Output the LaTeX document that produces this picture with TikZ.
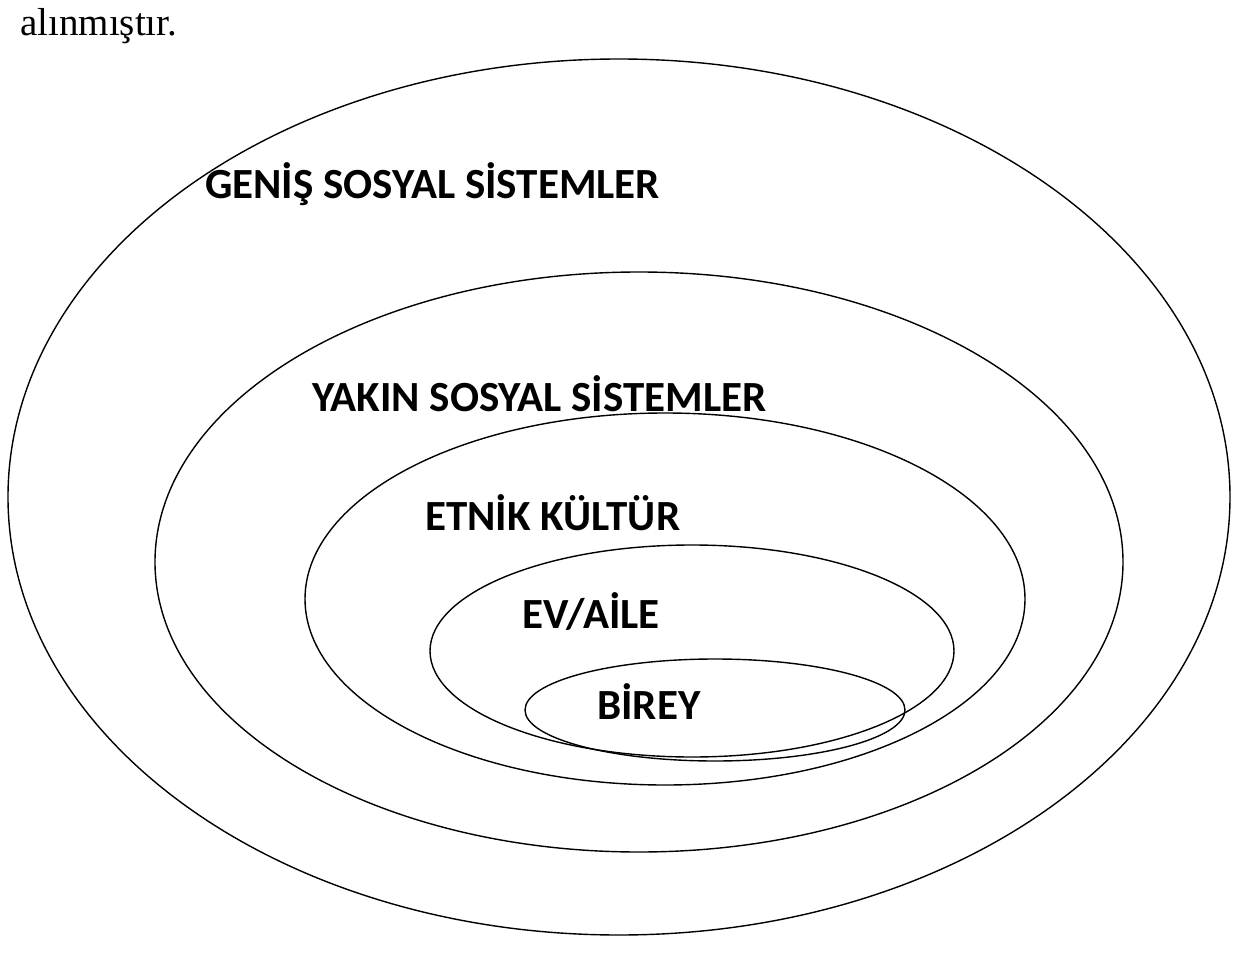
\documentclass[tikz,border=0pt]{standalone}
\usepackage{fontspec}
\setmainfont{Liberation Serif}
\newfontfamily\lblfont{Carlito}
\begin{document}
\begin{tikzpicture}[x=1pt,y=-1pt,
  ring/.style={draw=black,line width=1.4pt},
  lbl/.style={inner sep=0pt,anchor=base west,font=\lblfont\bfseries\fontsize{43}{50}\selectfont}]
\useasboundingbox (0,0) rectangle (1235,963);
\node[inner sep=0pt,anchor=base west,font=\fontsize{39}{44}\selectfont] (src) at (20,36) {alınmıştır.};
\draw[ring] (619,497) ellipse [x radius=611pt, y radius=438pt];
\draw[ring] (639,562) ellipse [x radius=484pt, y radius=290pt];
\draw[ring] (665,599) ellipse [x radius=360pt, y radius=186pt];
\draw[ring] (692,651) ellipse [x radius=262pt, y radius=106pt];
\draw[ring] (715,710) ellipse [x radius=190pt, y radius=51pt];
\node[lbl] (genis) at (205,199) {GENİŞ SOSYAL SİSTEMLER};
\node[lbl] (yakin) at (312,411) {YAKIN SOSYAL SİSTEMLER};
\node[lbl] (etnik) at (425,530) {ETNİK KÜLTÜR};
\node[lbl] (ev) at (522,628) {EV/AİLE};
\node[lbl] (birey) at (597,719) {BİREY};
\end{tikzpicture}
\end{document}
